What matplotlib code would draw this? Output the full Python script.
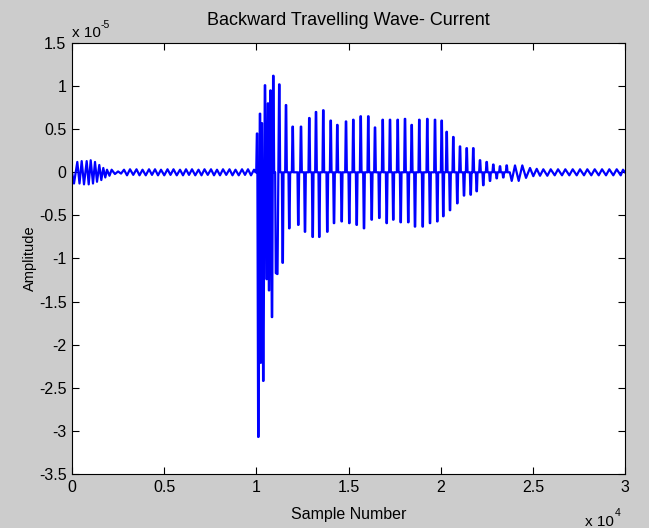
import numpy as np
import matplotlib.pyplot as plt

plt.rcParams['font.family'] = ['Liberation Sans', 'DejaVu Sans']

# amplitudes are in units of 1e-5, positions in sample numbers

# start of record: short transient then low ripple (consecutive extremes)
lead_samples = [0, 108, 288, 407, 526, 651, 797, 906, 1014, 1139, 1248, 1356, 1481,
                1590, 1698, 1806, 1899, 2034, 2150, 2330, 2500, 2660,
                2821, 2984, 3147, 3323, 3499, 3662, 3825, 4001, 4177, 4340, 4503,
                4666, 4828, 5005, 5181, 5344, 5506, 5683, 5859, 6022, 6185, 6348,
                6510, 6687, 6863, 7025, 7188, 7365, 7541, 7704, 7866, 8029, 8192,
                8368, 8544, 8707, 8870, 9046, 9223, 9385, 9548, 9711, 9874, 9950]
lead_amps = [0.0, -0.13, 0.12, -0.13, 0.13, -0.14, 0.13, -0.14, 0.14, -0.13, 0.12, -0.11, 0.085,
             -0.09, 0.05, -0.06, 0.03, -0.04, 0.03, -0.02, 0.01, -0.015,
             0.03, -0.035, 0.035, -0.03, 0.035, -0.035, 0.03, -0.035, 0.035, -0.03, 0.035,
             -0.035, 0.03, -0.035, 0.035, -0.03, 0.035, -0.035, 0.03, -0.035, 0.035, -0.03,
             0.035, -0.035, 0.03, -0.035, 0.035, -0.03, 0.035, -0.035, 0.03, -0.035, 0.035,
             -0.03, 0.035, -0.035, 0.03, -0.035, 0.035, -0.03, 0.035, -0.035, 0.03, 0.0]

# main burst: upward spikes
up_samples = [10040, 10199, 10300, 10470, 10633, 10769, 10921, 11246, 11610, 11973,
              12423, 12874, 13237, 13633, 14035, 14393, 14865, 15261, 15662, 16074,
              16438, 16856, 17252, 17669, 18065, 18429, 18841, 19275, 19693, 20056,
              20327, 20686, 21049, 21413, 21770, 22134, 22497, 22856, 23219, 23582]
up_amps = [0.45, 0.68, 0.57, 1.01, 0.80, 0.95, 1.12, 1.02, 0.78, 0.53,
           0.53, 0.63, 0.70, 0.72, 0.60, 0.55, 0.59, 0.61, 0.65, 0.65,
           0.52, 0.61, 0.61, 0.61, 0.62, 0.55, 0.61, 0.62, 0.61, 0.60,
           0.47, 0.41, 0.30, 0.28, 0.28, 0.14, 0.12, 0.09, 0.07, 0.08]

# main burst: downward spikes
down_samples = [10110, 10237, 10378, 10563, 10690, 10850, 11067, 11137, 11430, 11789,
                12277, 12640, 13058, 13416, 13850, 14214, 14631, 15044, 15445, 15841,
                16259, 16671, 17072, 17430, 17832, 18244, 18608, 19026, 19422, 19818,
                20143, 20507, 20903, 21266, 21629, 21955, 22313, 22677, 23040, 23398]
down_amps = [-3.07, -2.21, -2.42, -1.24, -1.37, -1.68, -1.17, -1.18, -1.05, -0.65,
             -0.61, -0.69, -0.75, -0.75, -0.69, -0.59, -0.57, -0.59, -0.61, -0.65,
             -0.55, -0.53, -0.59, -0.55, -0.58, -0.58, -0.63, -0.63, -0.59, -0.57,
             -0.51, -0.44, -0.36, -0.27, -0.26, -0.22, -0.15, -0.10, -0.07, -0.06]

# end of record ripple (consecutive extremes)
tail_samples = [23750, 23854, 24033, 24233, 24429, 24630, 24847, 25026, 25211, 25390,
                25569, 25786, 25970, 26187, 26366, 26583, 26762, 26979, 27163, 27380,
                27559, 27776, 27955, 28172, 28357, 28574, 28753, 28970, 29149, 29366,
                29550, 29767, 29892, 30000]
tail_amps = [0.0, -0.10, 0.08, -0.10, 0.08, -0.065, 0.05, -0.045, 0.04, -0.04,
             0.035, -0.04, 0.035, -0.035, 0.035, -0.035, 0.035, -0.035, 0.035, -0.035,
             0.035, -0.035, 0.035, -0.035, 0.035, -0.035, 0.035, -0.035, 0.035, -0.035,
             0.035, -0.035, 0.03, 0.0]

# spikes rise from and fall back to the zero line, each a few samples wide
events = sorted(zip(up_samples + down_samples, up_amps + down_amps))
bx, by = [], []
prev = None
for s, a in events:
    if prev is None or s - prev > 110:
        if prev is not None:
            bx.append(prev + 45)
            by.append(0.0)
        bx.append(s - 45)
        by.append(0.0)
    bx += [s - 12, s + 12]
    by += [a, a]
    prev = s
bx.append(prev + 45)
by.append(0.0)
# drop points that would go backwards in x
cx, cy = [], []
for px, py in zip(bx, by):
    if cx and px <= cx[-1]:
        continue
    cx.append(px)
    cy.append(py)

x = np.array(lead_samples + cx + tail_samples, dtype=float)
y = np.array(lead_amps + cy + tail_amps)

fig = plt.figure(figsize=(6.49, 5.28), dpi=100, facecolor='#cccccc')
ax = fig.add_axes([72 / 649, 1 - 474 / 528, 553 / 649, 431 / 528])
ax.plot(x, y, color='#0000ff', lw=1.6)

ax.set_xlim(0, 30000)
ax.set_ylim(-3.5, 1.5)
xt = np.arange(0, 30001, 5000)
ax.set_xticks(xt)
ax.set_xticklabels(['0', '0.5', '1', '1.5', '2', '2.5', '3'])
yt = np.arange(-3.5, 1.51, 0.5)
ax.set_yticks(yt)
ax.set_yticklabels(['%g' % v for v in yt])
ax.tick_params(direction='in', top=True, right=True, length=5, width=0.8,
               labelsize=11.5, pad=4)
for sp in ax.spines.values():
    sp.set_linewidth(0.8)

ax.set_title('Backward Travelling Wave- Current', fontsize=13, pad=13)
ax.set_xlabel('Sample Number', fontsize=11.5, labelpad=9)
ax.set_ylabel('Amplitude', fontsize=10.5, labelpad=1)

fig.text(72 / 649, 1 - 37 / 528, 'x 10', fontsize=11, ha='left', va='baseline')
fig.text(101 / 649, 1 - 28 / 528, '-5', fontsize=7.5, ha='left', va='baseline')
fig.text(585 / 649, 1 - 526 / 528, 'x 10', fontsize=11, ha='left', va='baseline')
fig.text(615 / 649, 1 - 516 / 528, '4', fontsize=7.5, ha='left', va='baseline')

fig.savefig('out.png', dpi=100, facecolor=fig.get_facecolor())
